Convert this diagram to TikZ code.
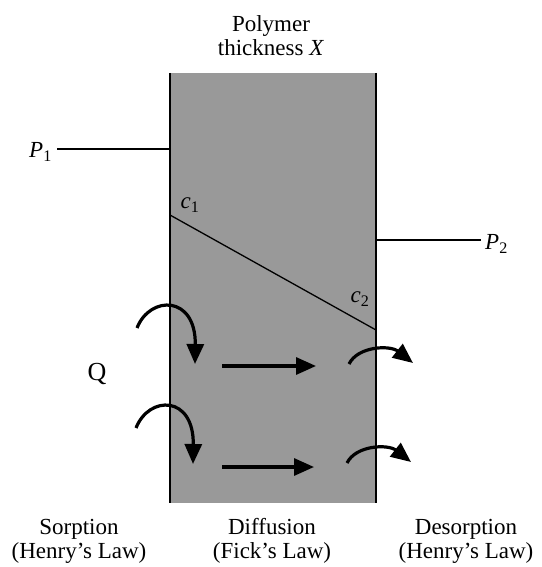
\documentclass[tikz,border=0pt]{standalone}
\usepackage{fontspec}
\setmainfont{Liberation Serif}
\usetikzlibrary{arrows.meta}
\begin{document}
\begin{tikzpicture}[x=1pt,y=-1pt,
  lbl/.style={font=\fontsize{23}{24}\selectfont, align=center, inner sep=0pt},
  flow/.style={line width=3.2pt, -{Triangle[length=20pt,width=17pt]}},
  thin/.style={line width=1.3pt}]
\useasboundingbox (0,0) rectangle (541,567);
\fill[fill=white] (0,0) rectangle (541,567);
% polymer slab
\fill[fill=black!40] (170,73) rectangle (376,503);
\draw[thin] (170,73) -- (170,503);
\draw[thin] (376,73) -- (376,503);
\coordinate (tl) at (170,149);
\coordinate (tr) at (376,240);
\coordinate (c1p) at (170,215);
\coordinate (c2p) at (376,330);
% labels
\node[lbl] (title) at (271,36) {Polymer\\thickness \textit{X}};
\node[lbl, anchor=east] (P1) at (52,152) {\textit{P}\textsubscript{1}};
\node[lbl, anchor=west] (P2) at (485,244) {\textit{P}\textsubscript{2}};
\coordinate (p1e) at (57,149);
\coordinate (p2e) at (481,240);
\draw[thin] (p1e) -- (tl);
\draw[thin] (tr) -- (p2e);
\draw[thin] (c1p) -- (c2p);
\node[lbl] (c1) at (190,205) {\textit{c}\textsubscript{1}};
\node[lbl] (c2) at (360,299) {\textit{c}\textsubscript{2}};
\node[lbl, font=\fontsize{26}{28}\selectfont] (Q) at (97,374) {Q};
\node[lbl] (sorp) at (79,541) {Sorption\\(Henry's Law)};
\node[lbl] (diff) at (272,541) {Diffusion\\(Fick's Law)};
\node[lbl] (desorp) at (466,541) {Desorption\\(Henry's Law)};
% sorption arrows
\coordinate (s1a) at (137,328);
\coordinate (s1b) at (195,364);
\draw[flow] (s1a) .. controls (150,295) and (196,295) .. (s1b);
\coordinate (s2a) at (136,428);
\coordinate (s2b) at (193,464);
\draw[flow] (s2a) .. controls (149,395) and (194,395) .. (s2b);
% diffusion arrows
\coordinate (d1a) at (222,366);
\coordinate (d1b) at (316,366);
\draw[flow] (d1a) -- (d1b);
\coordinate (d2a) at (222,467);
\coordinate (d2b) at (314,467);
\draw[flow] (d2a) -- (d2b);
% desorption arrows
\coordinate (e1a) at (349,364);
\coordinate (e1b) at (413,363);
\draw[flow] (e1a) .. controls (358,346) and (390,345) .. (e1b);
\coordinate (e2a) at (347,463);
\coordinate (e2b) at (411,462);
\draw[flow] (e2a) .. controls (356,445) and (388,444) .. (e2b);
\end{tikzpicture}
\end{document}
